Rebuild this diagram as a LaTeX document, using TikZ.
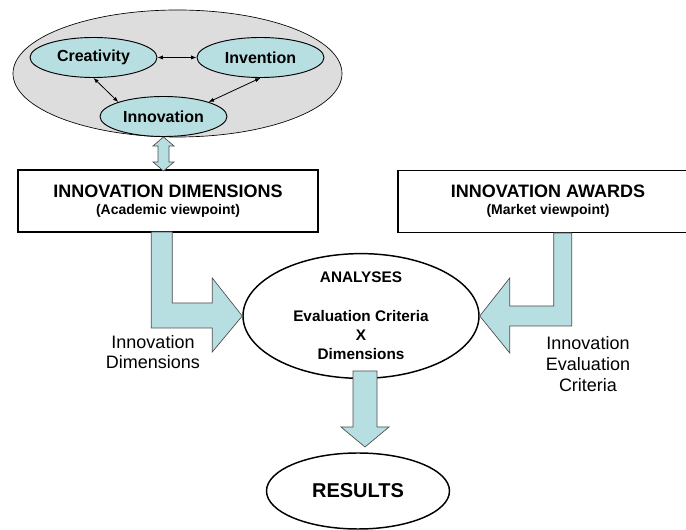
\documentclass[tikz,border=0pt]{standalone}
\usepackage{fontspec}
\setmainfont{Liberation Sans}
\usetikzlibrary{arrows.meta}
\usetikzlibrary{shapes.geometric}
\definecolor{paleblue}{RGB}{183,222,224}
\definecolor{cloudgray}{RGB}{221,221,221}
\tikzset{>={Latex[length=1.4mm,width=1.1mm]}}
\tikzset{
  cloud/.style={ellipse, draw, fill=cloudgray, line width=0.5pt, inner sep=0pt,
    minimum width=246.75pt, minimum height=95.25pt},
  idea/.style={ellipse, draw, fill=paleblue, line width=0.7pt, inner sep=0pt,
    minimum width=95.25pt, minimum height=30pt, font=\fontsize{12}{14}\selectfont\bfseries},
  viewbox/.style={draw, fill=white, line width=1.1pt, inner sep=0pt, align=center,
    minimum width=225pt, minimum height=46.5pt},
  bigoval/.style={ellipse, draw, fill=white, line width=1.1pt, inner sep=0pt, align=center},
  fatarrow/.style={draw=black!70, fill=paleblue, line width=0.5pt, line join=miter},
  thin/.style={<->, line width=0.6pt},
  side/.style={align=center, font=\fontsize{13.5}{15.5}\selectfont}
}

\begin{document}
\begin{tikzpicture}[x=0.75pt, y=-0.75pt]
\useasboundingbox (0,0) rectangle (686,530);
\clip (0,0) rectangle (686,530);
    %ideas
    \node[cloud] (ideas) at (177.5,73.5) {};
    \node[idea] (creat) at (93.5,57.5) {Creativity};
    \node[idea] (invent) at (260.5,57.5) {Invention};
    \node[idea] (innov) at (163.5,116.5) {Innovation};
    \draw[thin] (creat.east) -- (invent.west);
    \draw[thin] (creat.south) -- (innov.north west);
    \draw[thin] (invent.south) -- (innov.north east);
    %viewpoints
    \node[viewbox] (dims) at (168,201) {{\fontsize{13.5}{15}\selectfont\bfseries INNOVATION DIMENSIONS}\\[1pt]
      {\fontsize{10.5}{13}\selectfont\bfseries (Academic viewpoint)}};
    \node[viewbox] (awards) at (548,201.5) {{\fontsize{13.5}{15}\selectfont\bfseries INNOVATION AWARDS}\\[1pt]
      {\fontsize{10.5}{13}\selectfont\bfseries (Market viewpoint)}};
    %analyses and results
    \node[bigoval, minimum width=177pt, minimum height=91.5pt,
      font=\fontsize{11.5}{14.5}\selectfont\bfseries] (analyses) at (361,316)
      {ANALYSES\\[14.5pt]Evaluation Criteria\\X\\Dimensions};
    \node[bigoval, minimum width=137.25pt, minimum height=57pt,
      font=\fontsize{15}{17}\selectfont\bfseries] (results) at (358,491) {RESULTS};
    %block arrows
    \draw[fatarrow] (innov.south) -- ++(10.5,9) -- ++(-5,0) -- ++(0,16) -- ++(5,0)
      -- ++(-10.5,9) -- ++(-10.5,-9) -- ++(5,0) -- ++(0,-16) -- ++(-5,0) -- cycle;
    \draw[fatarrow] (analyses.west) -- ++(-30,36) -- ++(0,-24) -- ++(-61,0) -- ++(0,-96)
      -- ++(21,0) -- ++(0,71) -- ++(40,0) -- ++(0,-25) -- cycle;
    \draw[fatarrow] (analyses.east) -- ++(30,-38) -- ++(0,28) -- ++(44,0) -- ++(0,-73)
      -- ++(18,0) -- ++(0,93) -- ++(-62,0) -- ++(0,27) -- cycle;
    \draw[fatarrow] (365,447) -- ++(-24,-20) -- ++(12,0) -- ++(0,-56) -- ++(24,0)
      -- ++(0,56) -- ++(12,0) -- cycle;
    %labels
    \node[side] (dimlabel) at (153,352) {Innovation\\Dimensions};
    \node[side] (critlabel) at (588,364) {Innovation\\Evaluation\\Criteria};
\end{tikzpicture}
\end{document}
